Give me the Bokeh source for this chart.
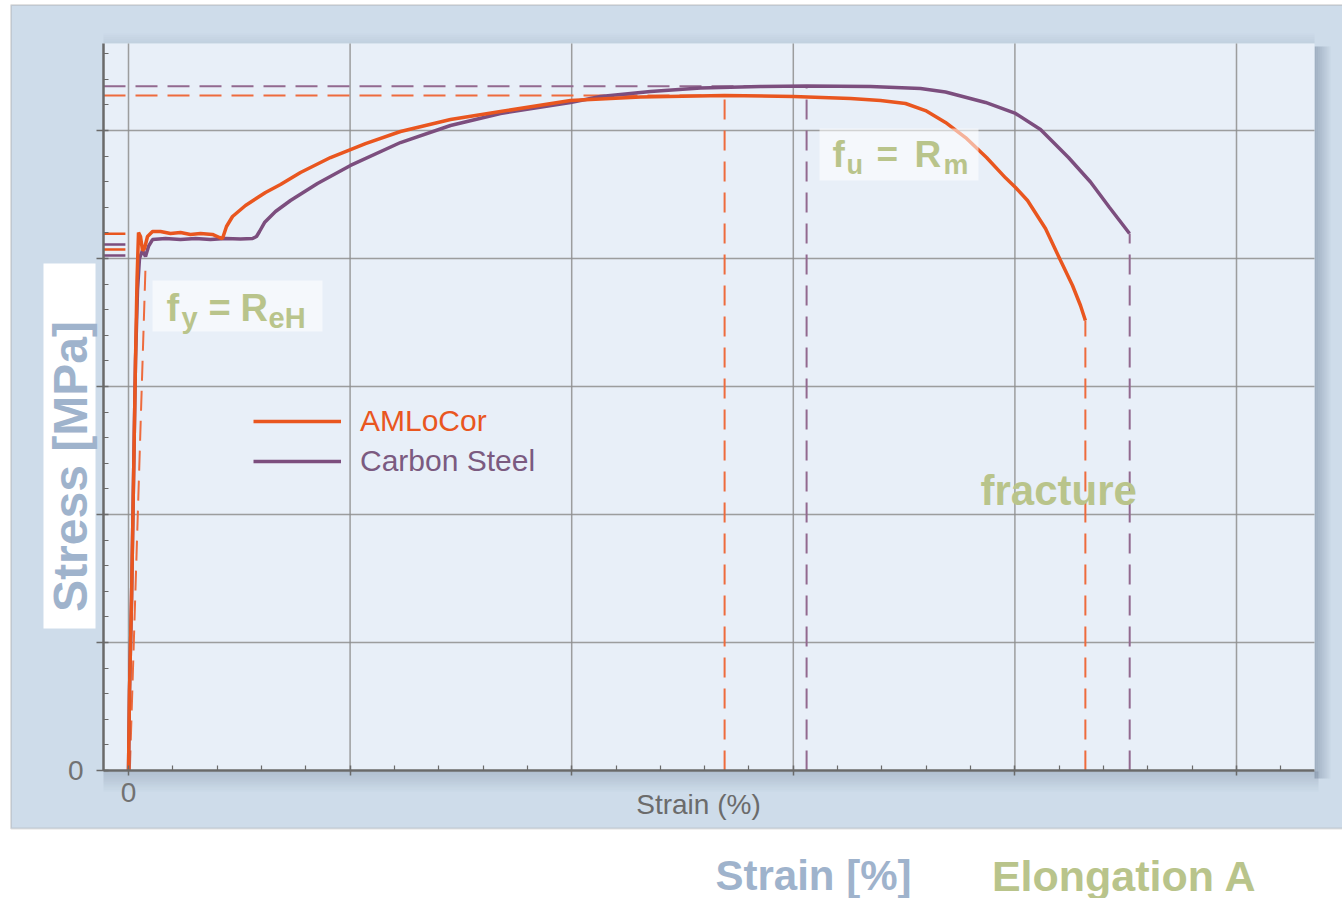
import math
from bokeh.plotting import figure
from bokeh.models import (Range1d, FixedTicker, Label, BoxAnnotation, Legend, LegendItem,
                          ColumnDataSource, CustomJSTickFormatter)
from bokeh.embed import file_html
from bokeh.resources import INLINE

# ---------------- data (strain %, stress MPa) ----------------
amlocor_strain = [0.0, 0.023, 0.068, 0.113, 0.158, 0.192, 0.226, 0.271, 0.316, 0.361, 0.429,
                  0.542, 0.722, 0.948, 1.173, 1.399, 1.625, 1.895, 2.053, 2.121, 2.211, 2.347,
                  2.640, 3.091, 3.430, 3.881, 4.558, 5.347, 6.137, 7.265, 8.394, 9.973, 11.552,
                  13.448, 15.005, 16.291, 16.968, 17.532, 17.983, 18.434, 18.886, 19.360,
                  19.788, 20.014, 20.285, 20.690, 21.030, 21.300, 21.480, 21.590]
amlocor_stress = [0.0, 62.5, 132.8, 226.6, 320.3, 382.8, 420.3, 417.2, 406.3, 407.8, 417.2,
                  421.1, 421.1, 419.5, 420.3, 418.8, 419.5, 418.8, 416.4, 415.6, 425.0, 432.8,
                  441.4, 451.6, 457.8, 467.2, 478.9, 489.8, 499.2, 508.6, 514.8, 523.4, 526.2,
                  527.3, 526.6, 525.0, 523.4, 521.1, 515.6, 506.3, 494.5, 478.9,
                  463.0, 455.5, 445.3, 423.4, 398.4, 378.9, 363.3, 351.6]

steel_strain = [0.0, 0.023, 0.068, 0.113, 0.158, 0.203, 0.248, 0.316, 0.384, 0.451, 0.542,
                0.835, 1.173, 1.512, 1.850, 2.189, 2.527, 2.798, 2.888, 2.956, 3.069, 3.317,
                3.655, 4.264, 5.009, 6.137, 7.265, 8.394, 9.973, 10.650, 11.778, 12.906,
                14.260, 15.298, 16.742, 17.870, 18.434, 19.337, 20.014, 20.578, 21.209,
                21.706, 22.135, 22.586]
steel_stress = [0.0, 62.5, 132.8, 226.6, 320.3, 375.0, 400.0, 406.3, 401.6, 409.4, 414.8,
                415.6, 414.8, 415.6, 414.8, 415.6, 415.2, 415.6, 417.2, 421.1, 428.1, 436.7,
                445.3, 458.6, 472.7, 490.6, 503.9, 513.3, 521.9, 526.6, 530.5, 533.2,
                534.4, 534.8, 534.4, 532.8, 530.1, 521.9, 513.3, 500.8, 478.9,
                459.8, 439.8, 419.5]

series_names = ["AMLoCor", "Carbon Steel"]
offset_strain = [0.03, 0.384]          # 0.2 % offset line (AMLoCor)
offset_stress = [0.0, 393.8]
rm_strain = [13.45, 15.30]             # strain at tensile strength fu = Rm
rm_stress = [527.3, 534.6]
fracture_strain = [21.59, 22.59]       # elongation at fracture A
fracture_stress = [351.6, 419.5]
yield_marks = [[419.3, 407.0], [410.9, 402.3]]   # ReH / ReL marks on the stress axis
x_ticks = [0, 5, 10, 15, 20, 25]
y_ticks = [0, 100, 200, 300, 400, 500]

# ---------------- style ----------------
ORANGE = "#e9561f"
PURPLE = "#7c4e7e"
ORANGE_D = "#ee6b3d"
PURPLE_D = "#92698f"
GREEN = "#b9c48b"
BLUEGRAY = "#9fb3cc"
PANEL = "#cedcea"
FRAME = "#e8eff8"
AXIS = "#6a6a6a"
BORDER = "#9c9c9c"
SHADOW = "#6f8198"
FONT = "Liberation Sans"
YOFF = 14      # label baseline correction (px)

# plot area bounds (data units) and scale
X0, X1 = -0.564, 26.76
Y0, Y1 = 0.0, 568.0
PX_X = 44.32   # px per % strain
PX_Y = 1.28    # px per MPa
W, H = 1342, 898
ORIGIN_PX = (128, 770)   # page position of (0 %, 0 MPa)


def at_x(px):
    return (px - ORIGIN_PX[0]) / PX_X


def at_y(py):
    return (ORIGIN_PX[1] - py) / PX_Y


p = figure(width=W, height=H, x_range=Range1d(at_x(0), at_x(W)), y_range=Range1d(at_y(H), at_y(0)),
           output_backend="svg", toolbar_location=None, min_border=0,
           border_fill_color="white", background_fill_color="white", outline_line_color=None)
p.xgrid.visible = False
p.ygrid.visible = False


def box(px_l, px_r, py_t, py_b, color, alpha=1.0, level="image", **kw):
    p.add_layout(BoxAnnotation(left=at_x(px_l), right=at_x(px_r), top=at_y(py_t), bottom=at_y(py_b),
                               fill_color=color, fill_alpha=alpha, level=level,
                               line_color=kw.get("line_color"), line_width=kw.get("line_width", 1)))


# panel with grey border, shadows and plot area background
box(10.5, W + 3, 4.5, 828, PANEL, line_color=BORDER, line_width=2)
for i in range(8):
    box(1314 + 2 * i, 1316 + 2 * i, 46, 778, SHADOW, 0.5 * (1 - i / 8))
for i in range(10):
    box(103, 1318, 771 + 2 * i, 773 + 2 * i, SHADOW, 0.3 * (1 - i / 10))
for i in range(5):
    box(103, 1314, 41 - 2 * i, 43 - 2 * i, SHADOW, 0.12 * (1 - i / 5))
p.add_layout(BoxAnnotation(left=X0, right=X1, bottom=Y0, top=Y1, fill_color=FRAME,
                           fill_alpha=1.0, level="image", line_color=None))

# grid lines (from tick lists)
grid_src_v = ColumnDataSource(dict(x=x_ticks, y0=[Y0] * len(x_ticks), y1=[Y1] * len(x_ticks)))
grid_src_h = ColumnDataSource(dict(y=y_ticks[1:], x0=[X0] * (len(y_ticks) - 1), x1=[X1] * (len(y_ticks) - 1)))
p.segment(x0="x", y0="y0", x1="x", y1="y1", source=grid_src_v, line_color="#8e8e8e",
          line_width=1.5, line_alpha=0.85, level="underlay")
p.segment(x0="x0", y0="y", x1="x1", y1="y", source=grid_src_h, line_color="#8e8e8e",
          line_width=1.5, line_alpha=0.85, level="underlay")

# axes drawn at fixed locations inside the canvas
zero_only = CustomJSTickFormatter(code="return tick == 0 ? '0' : '';")
p.xaxis.ticker = FixedTicker(ticks=x_ticks, minor_ticks=[t for t in range(1, 27) if t % 5])
p.yaxis.ticker = FixedTicker(ticks=y_ticks, minor_ticks=[t for t in range(20, 561, 20) if t % 100])
p.xaxis.fixed_location = 0
p.yaxis.fixed_location = X0
p.xaxis.bounds = (X0, X1)
p.yaxis.bounds = (Y0, Y1)
for ax in (p.xaxis[0], p.yaxis[0]):
    ax.formatter = zero_only
    ax.axis_line_color = AXIS
    ax.axis_line_width = 2.5
    ax.major_tick_line_color = AXIS
    ax.major_tick_line_width = 1.5
    ax.minor_tick_line_color = AXIS
    ax.minor_tick_line_width = 1.2
    ax.major_tick_in = 5
    ax.major_tick_out = 5
    ax.minor_tick_in = 5
    ax.minor_tick_out = 0
    ax.major_label_text_font = FONT
    ax.major_label_text_font_size = "28px"
    ax.major_label_text_color = "#727272"
p.yaxis.major_tick_out = 7
p.xaxis.major_label_standoff = 7
p.yaxis.major_label_standoff = 13

# dashed guides
dash_src = ColumnDataSource(dict(rx=rm_strain, ry=rm_stress, fx=fracture_strain, fy=fracture_stress,
                                 x0=[X0, X0], zero=[0, 0], color=[ORANGE_D, PURPLE_D]))
p.segment(x0="x0", y0="ry", x1="rx", y1="ry", source=dash_src, line_color="color",
          line_width=2, line_dash="22 10")
p.segment(x0="rx", y0="zero", x1="rx", y1="ry", source=dash_src, line_color="color",
          line_width=2, line_dash="20 11")
p.segment(x0="fx", y0="zero", x1="fx", y1="fy", source=dash_src, line_color="color",
          line_width=2, line_dash="20 11")
p.line(offset_strain, offset_stress, line_color=ORANGE_D, line_width=2, line_dash="20 10")

# yield marks on the stress axis
mk_y, mk_c = [], []
for vals, c in zip(yield_marks, [ORANGE, PURPLE]):
    for v in vals:
        mk_y.append(v)
        mk_c.append(c)
mk_src = ColumnDataSource(dict(y=mk_y, x0=[X0] * len(mk_y), x1=[-0.07] * len(mk_y), c=mk_c))
p.segment(x0="x0", y0="y", x1="x1", y1="y", source=mk_src, line_color="c", line_width=2.5)

r_cs = p.line(steel_strain, steel_stress, line_color=PURPLE, line_width=3.5)
r_am = p.line(amlocor_strain, amlocor_stress, line_color=ORANGE, line_width=3.5)

for name, rend, col, loc in [(series_names[0], r_am, ORANGE, (253, H - 438)),
                             (series_names[1], r_cs, "#7b5a80", (253, H - 478))]:
    lg = Legend(items=[LegendItem(label=name, renderers=[rend])], location=loc,
                background_fill_alpha=0, border_line_color=None, padding=0, margin=0,
                spacing=0, glyph_width=88, glyph_height=30, label_height=30,
                label_standoff=19, label_text_font=FONT, label_text_font_size="30px",
                label_text_color=col)
    p.add_layout(lg)

# annotation boxes
box(152, 322, 280, 331, "white", 0.55, level="annotation")
box(819, 978, 128, 180, "white", 0.55, level="annotation")
box(43, 95, 263, 628, "white", 1.0, level="annotation")


def lab(text, px, py, size, color=GREEN, bold=True, align="left", angle=0, dx=0):
    p.add_layout(Label(x=at_x(px + dx), y=at_y(py - (YOFF if angle == 0 else 0)), text=text,
                       text_font=FONT, text_font_size=f"{size}px",
                       text_font_style="bold" if bold else "normal",
                       text_color=color, text_align=align, text_baseline="alphabetic", angle=angle))


lab("f", 166, 321, 38)
lab("y", 181, 331, 29)
lab("=", 208, 321, 38)
lab("R", 240, 321, 38)
lab("eH", 268, 331, 29)

lab("f", 832, 168, 37)
lab("u", 846, 178, 27)
lab("=", 876, 168, 37)
lab("R", 914, 168, 37)
lab("m", 943, 178, 28)

lab("fracture", 980, 504, 42)
lab("Stress [MPa]", 84, 466, 48, color=BLUEGRAY, align="center", angle=math.pi / 2, dx=-YOFF)
lab("Strain (%)", 698, 818, 28, color="#6b6b6b", bold=False, align="center")
lab("Strain [%]", 813, 889, 42, color=BLUEGRAY, align="center")
lab("Elongation A", 1124, 889, 43, color=GREEN, align="center")

open("out.html", "w").write(file_html(p, INLINE))
